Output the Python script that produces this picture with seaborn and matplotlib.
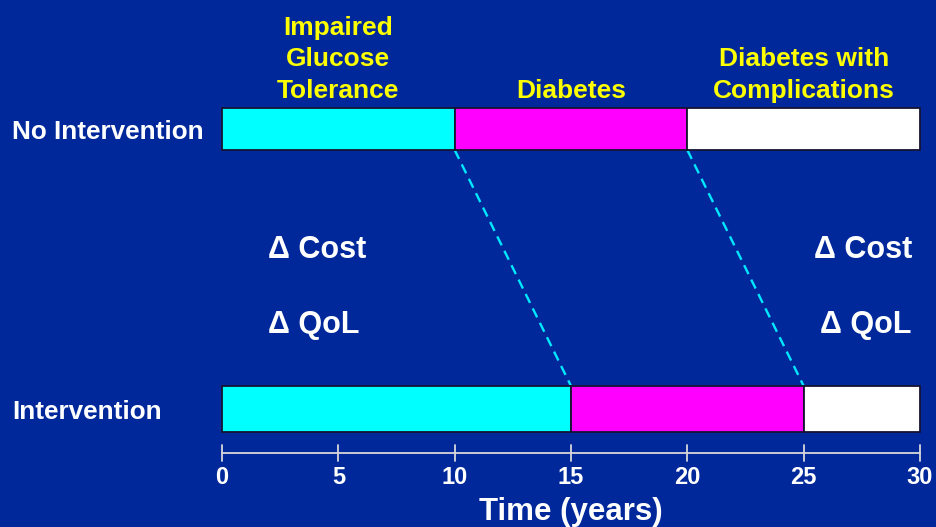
import matplotlib
matplotlib.use("Agg")
import matplotlib.pyplot as plt
import seaborn as sns
import numpy as np

# Stage durations (years) for each strategy
groups = ["No Intervention", "Intervention"]
stages = ["Impaired\nGlucose\nTolerance", "Diabetes", "Diabetes with\nComplications"]
no_intervention_years = [10, 10, 10]
intervention_years = [15, 10, 5]
x_ticks = [0, 5, 10, 15, 20, 25, 30]
delta_labels = ["\u0394 Cost", "\u0394 QoL"]

stage_colors = ["#00FFFF", "#FF00FF", "#FFFFFF"]
bg = "#00289B"

sns.set_theme(style="white", rc={"figure.facecolor": bg, "axes.facecolor": bg})
plt.rcParams["font.family"] = ["Liberation Sans", "DejaVu Sans"]

W, H = 937, 527
fig = plt.figure(figsize=(W / 100, H / 100), dpi=100)
ax = fig.add_axes([0, 0, 1, 1])
ax.set_facecolor(bg)

# horizontal scale: year 0 at x0 px, year 30 at x1 px
x0, x1 = 222, 920
ppy = (x1 - x0) / 30.0
ax.set_xlim(-x0 / ppy, (W - x0) / ppy)
ax.set_ylim(H, 0)
ax.axis("off")

rows = {"No Intervention": (129, 42), "Intervention": (409, 46)}
durations = {"No Intervention": no_intervention_years, "Intervention": intervention_years}

bounds = {}
for g in groups:
    yc, h = rows[g]
    left = 0
    edges = []
    for d, c in zip(durations[g], stage_colors):
        ax.barh(yc, d, left=left, height=h, color=c, edgecolor="#141432",
                linewidth=1.3, zorder=3)
        left += d
        edges.append(left)
    bounds[g] = edges
    ax.text(-x0 / ppy + 12 / ppy, yc + 3, g, color="white", fontsize=18.8,
            fontweight="bold", ha="left", va="center")

# dashed connectors between matching stage transitions
top_y = rows["No Intervention"][0] + rows["No Intervention"][1] / 2
bot_y = rows["Intervention"][0] - rows["Intervention"][1] / 2
for a, b in zip(bounds["No Intervention"][:2], bounds["Intervention"][:2]):
    sns.lineplot(x=[a, b], y=[top_y, bot_y], ax=ax, color="#00E8FF",
                 linewidth=1.7, linestyle=(0, (4.2, 2.6)), zorder=2,
                 estimator=None, sort=False)

# stage titles above the top bar
left = 0
for s, d in zip(stages, no_intervention_years):
    ax.text(left + d / 2, 103, s, color="#FFFF00", fontsize=19,
            fontweight="bold", ha="center", va="bottom", linespacing=1.4)
    left += d

# delta labels
for i, lab in enumerate(delta_labels):
    y = 250 + i * 75
    ax.text((268 - x0) / ppy, y, lab, color="white", fontsize=22,
            fontweight="bold", ha="left", va="center")
    ax.text((912 - x0) / ppy, y, lab, color="white", fontsize=22,
            fontweight="bold", ha="right", va="center")

# time axis
axis_y = 453
ax.plot([0, 30], [axis_y, axis_y], color="#D8D8D8", linewidth=1.3, zorder=2)
for t in x_ticks:
    ax.plot([t, t], [axis_y - 8, axis_y + 8], color="#D8D8D8", linewidth=1.3)
    ax.text(t, 477, str(t), color="white", fontsize=17, fontweight="bold",
            ha="center", va="center")
ax.text(15, 512, "Time (years)", color="white", fontsize=22.5, fontweight="bold",
        ha="center", va="center")

fig.savefig("out.png", dpi=100, facecolor=bg)
